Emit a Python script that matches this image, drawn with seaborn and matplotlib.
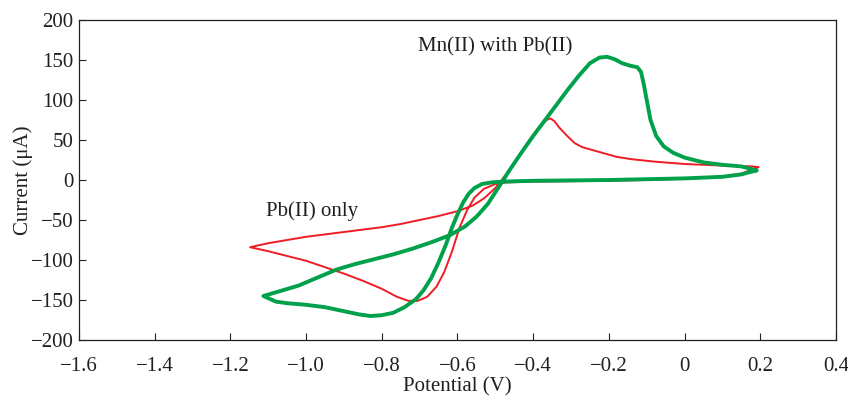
import matplotlib
matplotlib.use("Agg")
import matplotlib.pyplot as plt
import seaborn as sns
import pandas as pd

# Cyclic voltammograms, each loop starting at the anodic vertex and scanning cathodic first
pb_potential = [0.195, 0.15, 0.10, 0.0, -0.1, -0.2, -0.3, -0.4, -0.47, -0.50, -0.53, -0.555,
                -0.575, -0.595, -0.615, -0.635, -0.655, -0.68, -0.705, -0.73, -0.76, -0.80,
                -0.85, -0.90, -0.95, -1.00, -1.05, -1.10, -1.148,
                -1.10, -1.05, -1.0, -0.95, -0.90, -0.85, -0.80, -0.75, -0.70, -0.65, -0.60,
                -0.56, -0.53, -0.50, -0.47, -0.44, -0.41, -0.385, -0.365, -0.355, -0.345,
                -0.33, -0.31, -0.29, -0.27, -0.24, -0.21, -0.18, -0.14, -0.08, 0.0, 0.1,
                0.18, 0.195]
pb_current = [16, 8, 4, 1.5, 0, -1, -1.5, -2, -3, -5, -11, -22,
              -38, -60, -90, -115, -133, -146, -151, -151, -146, -136,
              -126, -117, -109, -101, -95, -89, -84,
              -79, -75, -71, -68, -65, -62, -59, -55, -50, -45, -39,
              -32, -23, -10, 8, 28, 50, 66, 75, 77, 74,
              65, 55, 46, 41, 37, 33, 29, 26, 23, 20, 18,
              17, 16]

mn_potential = [0.19, 0.15, 0.1, 0.0, -0.1, -0.2, -0.3, -0.4, -0.48, -0.51, -0.535, -0.555,
                -0.57, -0.585, -0.60, -0.615, -0.63, -0.65, -0.67, -0.69, -0.71, -0.74,
                -0.77, -0.80, -0.83, -0.86, -0.90, -0.95, -1.00, -1.05, -1.08, -1.113,
                -1.07, -1.02, -0.97, -0.92, -0.87, -0.82, -0.77, -0.72, -0.67, -0.62,
                -0.58, -0.55, -0.52, -0.49, -0.46, -0.43, -0.40, -0.37, -0.34, -0.31,
                -0.28, -0.25, -0.225, -0.205, -0.185, -0.165, -0.145, -0.125, -0.115,
                -0.108, -0.10, -0.09, -0.075, -0.055, -0.03, 0.0, 0.05, 0.1, 0.15, 0.19]
mn_current = [12, 7, 4, 2, 1, 0, -0.5, -1, -2, -3, -5, -10,
              -17, -28, -43, -60, -80, -103, -123, -138, -149, -159,
              -166, -169, -170, -168, -164, -159, -156, -154, -152, -145,
              -139, -132, -122, -112, -105, -99, -93, -86, -78, -69,
              -58, -46, -30, -8, 14, 35, 55, 74, 93, 112,
              130, 146, 153, 154, 151, 146, 143, 141, 135,
              120, 100, 75, 55, 42, 34, 28, 22, 19, 17, 12]

x_ticks = [-1.6, -1.4, -1.2, -1.0, -0.8, -0.6, -0.4, -0.2, 0, 0.2, 0.4]
x_tick_labels = ["\u22121.6", "\u22121.4", "\u22121.2", "\u22121.0", "\u22120.8", "\u22120.6",
                 "\u22120.4", "\u22120.2", "0", "0.2", "0.4"]
y_ticks = [-200, -150, -100, -50, 0, 50, 100, 150, 200]
y_tick_labels = ["\u2212200", "\u2212150", "\u2212100", "\u221250", "0", "50", "100", "150", "200"]

sns.set_theme(style="ticks")
plt.rcParams["font.family"] = ["Liberation Serif", "DejaVu Serif"]
plt.rcParams["font.size"] = 15

text_color = "#231f20"

pb_df = pd.DataFrame({"E": pb_potential, "I": pb_current})
mn_df = pd.DataFrame({"E": mn_potential, "I": mn_current})

fig = plt.figure(figsize=(8.48, 3.96), dpi=100)
ax = fig.add_axes([0.0932, 0.1414, 0.8926, 0.8081])

sns.lineplot(data=pb_df, x="E", y="I", sort=False, estimator=None, color="#ee1c25",
             linewidth=1.4, ax=ax)
sns.lineplot(data=mn_df, x="E", y="I", sort=False, estimator=None, color="#00a14b",
             linewidth=2.8, ax=ax)

ax.set_xlim(-1.6, 0.4)
ax.set_ylim(-200, 200)
ax.set_xticks(x_ticks)
ax.set_xticklabels(x_tick_labels)
ax.set_yticks(y_ticks)
ax.set_yticklabels(y_tick_labels)
ax.tick_params(direction="in", length=5, width=0.8, labelsize=15, colors=text_color)
ax.tick_params(axis="x", pad=12)
ax.tick_params(axis="y", pad=4)
for side in ax.spines.values():
    side.set_linewidth(0.9)
    side.set_color(text_color)

ax.set_xlabel("Potential (V)", fontsize=15, color=text_color, labelpad=1)
ax.set_ylabel("Current (\u03bcA)", fontsize=15, color=text_color, labelpad=-2)

ax.text(-0.50, 166, "Mn(II) with Pb(II)", fontsize=15, color=text_color,
        ha="center", va="center")
ax.text(-0.985, -39, "Pb(II) only", fontsize=15, color=text_color,
        ha="center", va="center")

fig.savefig("out.png", dpi=100)
